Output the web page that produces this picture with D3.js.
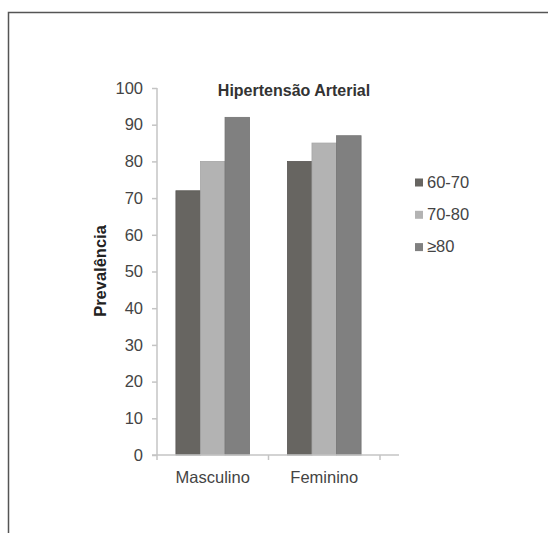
<!DOCTYPE html>
<html>
<head>
<meta charset="utf-8">
<script src="https://cdn.jsdelivr.net/npm/d3@7"></script>
<style>
  html, body { margin: 0; padding: 0; background: #fff; }
  svg { display: block; }
</style>
</head>
<body>
<svg id="chart" width="548" height="533"></svg>
<script>
const categories = ["Masculino", "Feminino"];
const groups = ["60-70", "70-80", "≥80"];
const values6070 = [72, 80];
const values7080 = [80, 85];
const values80 = [92, 87];
const yTicks = [0, 10, 20, 30, 40, 50, 60, 70, 80, 90, 100];
const title = "Hipertensão Arterial";
const yLabel = "Prevalência";

const seriesValues = [values6070, values7080, values80];
const colors = ["#676561", "#b3b3b3", "#808080"];
const strokes = ["#5a5855", "#a6a6a6", "#747474"];

const svg = d3.select("#chart");
const font = "Arial, 'Liberation Sans', sans-serif";
const fs = "16.5px";

// outer frame (left and top edges visible)
svg.append("path")
  .attr("d", "M8.5,533 V12.5 H548")
  .attr("fill", "none")
  .attr("stroke", "#555")
  .attr("stroke-width", 1.5);

const x0 = 157, x1 = 380;
const y = d3.scaleLinear().domain([0, 100]).range([455, 88]);
const x = d3.scaleBand().domain(categories).range([x0, x1]).paddingInner(0).paddingOuter(0);
const xs = d3.scaleBand().domain(groups).range([0, x.bandwidth()]).paddingInner(0).paddingOuter(0.77);

// y axis
const yAxis = svg.append("g")
  .attr("transform", `translate(${x0},0)`)
  .call(d3.axisLeft(y).tickValues(yTicks).tickSize(5).tickPadding(9));
yAxis.select(".domain").attr("stroke", "#c4c4c4").attr("stroke-width", 1.5)
  .attr("d", `M0,${y(100)}V${y(0)}`);
yAxis.selectAll(".tick line").attr("stroke", "#c4c4c4").attr("stroke-width", 1.5);
yAxis.selectAll(".tick text")
  .attr("fill", "#444")
  .style("font-family", font)
  .style("font-size", fs);

// bars
const groupG = svg.append("g").selectAll("g")
  .data(categories)
  .join("g")
  .attr("transform", d => `translate(${x(d)},0)`);

groupG.selectAll("rect")
  .data((d, i) => groups.map((g, j) => ({ g, j, v: seriesValues[j][i] })))
  .join("rect")
  .attr("x", d => xs(d.g))
  .attr("width", xs.bandwidth())
  .attr("y", d => y(d.v))
  .attr("height", d => y(0) - y(d.v))
  .attr("fill", d => colors[d.j])
  .attr("stroke", d => strokes[d.j])
  .attr("stroke-width", 0.8);

// x axis
const xAxis = svg.append("g")
  .attr("transform", `translate(0,${y(0)})`);
xAxis.append("line")
  .attr("x1", 152).attr("x2", 399)
  .attr("stroke", "#c4c4c4").attr("stroke-width", 1.5);
const tickXs = [x0, ...categories.map(c => x(c) + x.bandwidth())];
xAxis.selectAll(".xt")
  .data(tickXs)
  .join("line")
  .attr("class", "xt")
  .attr("x1", d => d).attr("x2", d => d)
  .attr("y1", 0).attr("y2", 5)
  .attr("stroke", "#c4c4c4").attr("stroke-width", 1.5);
xAxis.selectAll(".xl")
  .data(categories)
  .join("text")
  .attr("class", "xl")
  .attr("x", d => x(d) + x.bandwidth() / 2)
  .attr("y", 28)
  .attr("text-anchor", "middle")
  .attr("fill", "#444")
  .style("font-family", font)
  .style("font-size", fs)
  .text(d => d);

// title
svg.append("text")
  .attr("x", 294).attr("y", 96)
  .attr("text-anchor", "middle")
  .attr("fill", "#333")
  .style("font-family", font)
  .style("font-size", "16px")
  .style("font-weight", "bold")
  .text(title);

// y label
svg.append("text")
  .attr("transform", "translate(106,271) rotate(-90)")
  .attr("text-anchor", "middle")
  .attr("fill", "#222")
  .style("font-family", font)
  .style("font-size", fs)
  .style("font-weight", "bold")
  .text(yLabel);

// legend
const legend = svg.append("g").selectAll("g")
  .data(groups)
  .join("g")
  .attr("transform", (d, i) => `translate(415,${182.5 + i * 32.3})`);
legend.append("rect")
  .attr("x", 0).attr("y", -4)
  .attr("width", 8).attr("height", 8)
  .attr("fill", (d, i) => colors[i]);
legend.append("text")
  .attr("x", 12).attr("y", 5)
  .attr("fill", "#444")
  .style("font-family", font)
  .style("font-size", fs)
  .text(d => d);
</script>
</body>
</html>
